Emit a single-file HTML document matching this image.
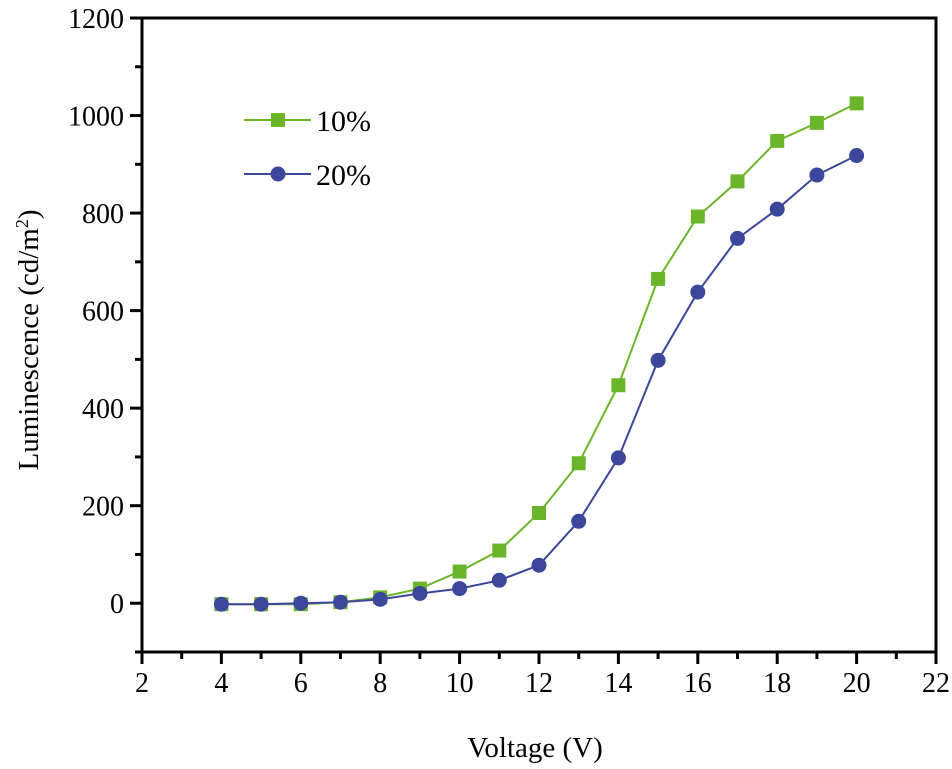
<!DOCTYPE html>
<html><head><meta charset="utf-8"><style>
body{margin:0;background:#fff}
svg{display:block;font-family:"Liberation Serif",serif}
</style></head><body>
<svg width="952" height="769" viewBox="0 0 952 769">
<g id="axes"></g>
<g id="series"></g>
<g id="legend"></g>
</svg>
<script>
const xValues=[4,5,6,7,8,9,10,11,12,13,14,15,16,17,18,19,20];
const series10=[-2,-2,-2,2,12,30,65,108,185,287,447,665,793,865,948,985,1025];
const series20=[-2,-2,0,2,8,20,30,47,78,168,298,498,638,748,808,878,918];
const xTicks=[2,4,6,8,10,12,14,16,18,20,22];
const yTicks=[0,200,400,600,800,1000,1200];
const X0=142,X1=936,Y0=652,Y1=18;
const xs=v=>X0+(v-2)/20*(X1-X0);
const ys=v=>Y0-(v+100)/1300*(Y0-Y1);
const NS="http://www.w3.org/2000/svg";
function mk(tag,attrs,parent){const e=document.createElementNS(NS,tag);for(const k in attrs)e.setAttribute(k,attrs[k]);parent.appendChild(e);return e;}
const ax=document.getElementById('axes');
let frame=mk('rect',{x:X0,y:Y1,width:X1-X0,height:Y0-Y1,fill:'none',stroke:'#000','stroke-width':3},ax);


for(let v=2;v<=22;v++){
  const maj=v%2===0;
  let t=mk('line',{x1:xs(v),x2:xs(v),y1:Y0,y2:Y0+(maj?12:7),stroke:'#000','stroke-width':3},ax);
  
  
}
xTicks.forEach(v=>{
  let t=mk('text',{x:xs(v),y:Y0+40,'font-size':28,'text-anchor':'middle'},ax);t.textContent=v;
  
  
});
for(let v=-100;v<=1200;v+=100){
  const maj=v%200===0;
  let t=mk('line',{x1:X0,x2:X0-(maj?12:7),y1:ys(v),y2:ys(v),stroke:'#000','stroke-width':3},ax);
  
  
}
yTicks.forEach(v=>{
  let t=mk('text',{x:X0-18,y:ys(v)+10,'font-size':28,'text-anchor':'end'},ax);t.textContent=v;
  
  
});
let xt=mk('text',{x:535,y:757,'font-size':29,'text-anchor':'middle'},ax);xt.textContent='Voltage (V)';


let yt=mk('text',{x:0,y:0,'font-size':29,'text-anchor':'middle',transform:'translate(38,340) rotate(-90)'},ax);
yt.innerHTML='Luminescence (cd/m<tspan dy="-10" font-size="18">2</tspan><tspan dy="10">)</tspan>';


const sg=document.getElementById('series');
function draw(vals,color,shape,name){
  let pts=xValues.map((x,i)=>xs(x)+','+ys(vals[i])).join(' ');
  let pl=mk('polyline',{points:pts,fill:'none',stroke:color,'stroke-width':2},sg);
  
  
  xValues.forEach((x,i)=>{
    let m;
    if(shape==='sq')m=mk('rect',{x:xs(x)-7,y:ys(vals[i])-7,width:14,height:14,fill:color},sg);
    else m=mk('circle',{cx:xs(x),cy:ys(vals[i]),r:7.5,fill:color},sg);
    
    
  });
}
draw(series10,'#6bb52a','sq','series-10');
draw(series20,'#3a479a','ci','series-20');
const lg=document.getElementById('legend');
function leg(y,color,shape,label){
  let g=mk('g',{},lg);
  
  
  mk('line',{x1:244,x2:311,y1:y,y2:y,stroke:color,'stroke-width':2},g);
  if(shape==='sq')mk('rect',{x:271,y:y-7,width:14,height:14,fill:color},g);
  else mk('circle',{cx:278,cy:y,r:7.5,fill:color},g);
  let t=mk('text',{x:316,y:y+11,'font-size':30},g);t.textContent=label;
}
leg(120,'#6bb52a','sq','10%');
leg(174,'#3a479a','ci','20%');
</script>
</body></html>
